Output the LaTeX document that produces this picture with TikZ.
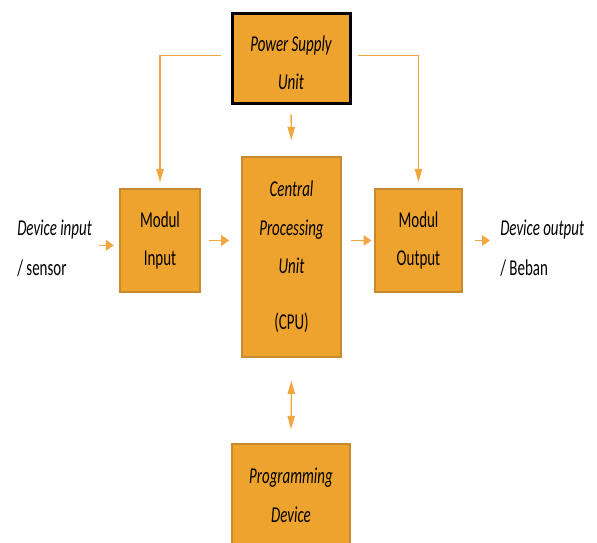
\documentclass[tikz,border=0pt]{standalone}
\usepackage{fontspec}
\setmainfont{Carlito}[FakeStretch=0.66]
\usepackage{tikz}
\usetikzlibrary{arrows.meta,positioning,calc}
\definecolor{PlcOrange}{HTML}{EFA32F}
\definecolor{PlcEdge}{HTML}{C78A2C}
\definecolor{PlcArrow}{HTML}{F2A640}

\begin{document}
\begin{tikzpicture}[x=0.75pt,y=-0.75pt,
    unit/.style={draw=PlcEdge,line width=1.2pt,fill=PlcOrange,align=center,inner sep=0pt,
      font=\fontsize{17pt}{29pt}\selectfont},
    label/.style={align=left,inner sep=0pt,font=\fontsize{17pt}{30pt}\selectfont},
    harr/.style={PlcArrow,line width=1pt,-{Triangle[length=6pt,width=8pt]}},
    varr/.style={PlcArrow,line width=1pt,-{Triangle[length=10pt,width=5.5pt]}}]
    \useasboundingbox (0,0) rectangle (597,543);
    \clip (0,0) rectangle (597,543);
    % blocks
    \node[unit,draw=black,line width=2.25pt,minimum width=88.5pt,minimum height=67.5pt] (psu) at (291,58) {\rule{0pt}{19pt}\itshape Power Supply\\\itshape Unit};
    \node[unit,minimum width=74.25pt,minimum height=150pt] (cpu) at (291.5,257) {\itshape Central\\\itshape Processing\\\itshape Unit\\[13pt](CPU)};
    \node[unit,minimum width=60pt,minimum height=77.25pt] (inmod) at (160,240.5) {Modul\\Input};
    \node[unit,minimum width=65.25pt,minimum height=77.25pt] (outmod) at (418.5,240.5) {Modul\\Output};
    \node[unit,minimum width=88.5pt,minimum height=76.5pt] (prog) at (291,495) {\itshape Programming\\\itshape Device};
    % outside labels
    \node[label,anchor=west] (devin) at (17,248) {\itshape Device input\\/ sensor};
    \node[label,anchor=west] (devout) at (500,248) {\itshape Device output\\/ Beban};
    % connectors
    \draw[varr,shorten <=7.5pt,shorten >=4.5pt] ([yshift=2pt]psu.west) -| (inmod.north);
    \draw[varr,shorten <=5pt,shorten >=4.5pt] ([yshift=2pt]psu.east) -| (outmod.north);
    \draw[varr,shorten <=7.5pt,shorten >=12pt] (psu.south) -- (cpu.north);
    \draw[harr,shorten <=5pt,shorten >=4pt] ([yshift=2pt]devin.east) -- ([yshift=2pt]devin.east -| inmod.west);
    \draw[harr,shorten <=6pt,shorten >=9pt] (inmod.east) -- (inmod.east -| cpu.west);
    \draw[harr,shorten <=7pt,shorten >=2pt] (outmod.west -| cpu.east) -- (outmod.west);
    \draw[harr,shorten <=9pt,shorten >=7.5pt] (outmod.east) -- (outmod.east -| devout.west);
    \draw[PlcArrow,line width=1pt,{Triangle[length=10pt,width=5.5pt]}-{Triangle[length=10pt,width=5.5pt]},shorten <=17pt,shorten >=10.5pt] (cpu.south) -- (prog.north);
  \end{tikzpicture}
\end{document}
